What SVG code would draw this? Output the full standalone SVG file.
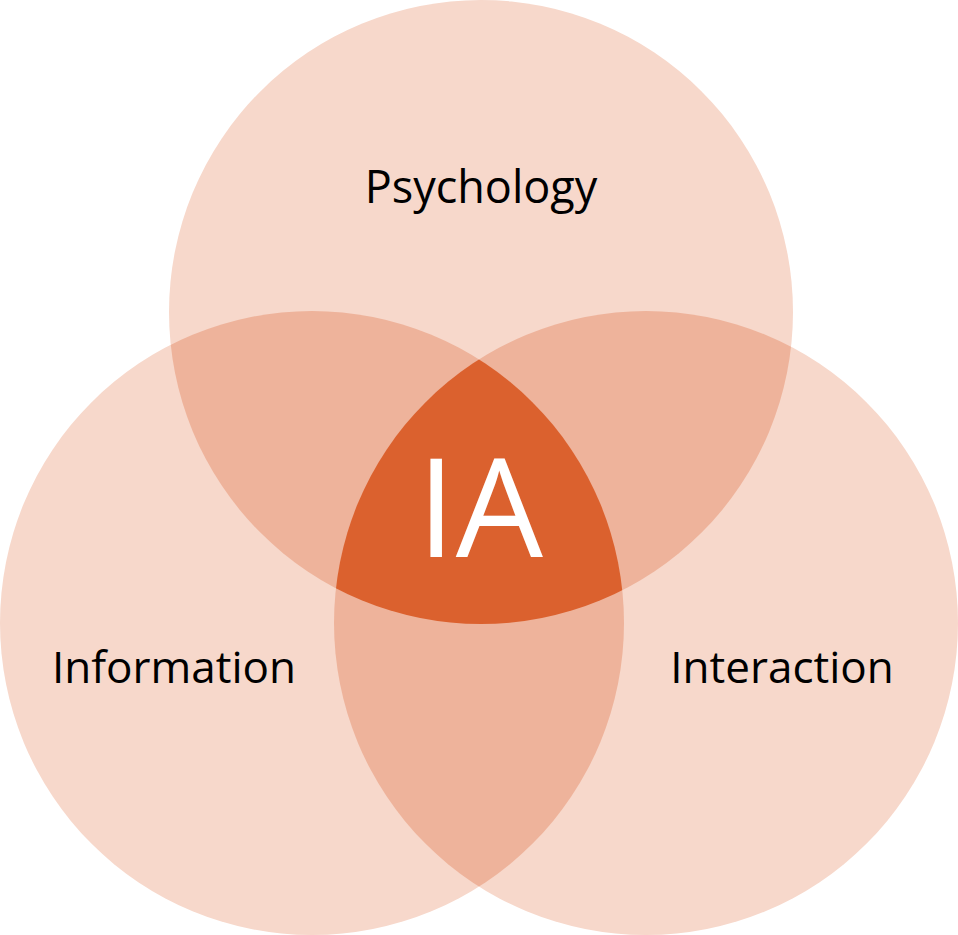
<svg xmlns="http://www.w3.org/2000/svg" width="958" height="935" viewBox="0 0 958 935">
<style>
.single{fill:#F7D8CB}
.pair{fill:#EEB39B}
.triple{fill:#DB612E}
.lbl{font-family:"Open Sans","Noto Sans","Liberation Sans",sans-serif;font-size:44px;fill:#000;text-anchor:middle}
.ia{font-family:"Open Sans","Liberation Sans",sans-serif;font-size:138px;fill:#fff;text-anchor:middle}
</style>
<defs>
<circle id="cTop" cx="481" cy="312" r="312"/>
<circle id="cLeft" cx="312" cy="623" r="312"/>
<circle id="cRight" cx="646" cy="623" r="312"/>
<clipPath id="clipTop"><use href="#cTop"/></clipPath>
<clipPath id="clipLeft"><use href="#cLeft"/></clipPath>
<clipPath id="clipRight"><use href="#cRight"/></clipPath>
</defs>
<g id="psychology">
<use href="#cTop" class="single"/>
</g>
<g id="information">
<use href="#cLeft" class="single"/>
</g>
<g id="interaction">
<use href="#cRight" class="single"/>
</g>
<g id="overlaps">
<use href="#cLeft" class="pair" clip-path="url(#clipTop)"/>
<use href="#cRight" class="pair" clip-path="url(#clipTop)"/>
<use href="#cRight" class="pair" clip-path="url(#clipLeft)"/>
<g clip-path="url(#clipTop)"><use href="#cRight" class="triple" clip-path="url(#clipLeft)"/></g>
</g>
<g id="labels">
<text class="lbl" x="481" y="203" style="font-size:45px">Psychology</text>
<text class="lbl" x="174" y="683">Information</text>
<text class="lbl" x="782" y="683">Interaction</text>
<text class="ia" x="480" y="557">IA</text>
</g>
</svg>
